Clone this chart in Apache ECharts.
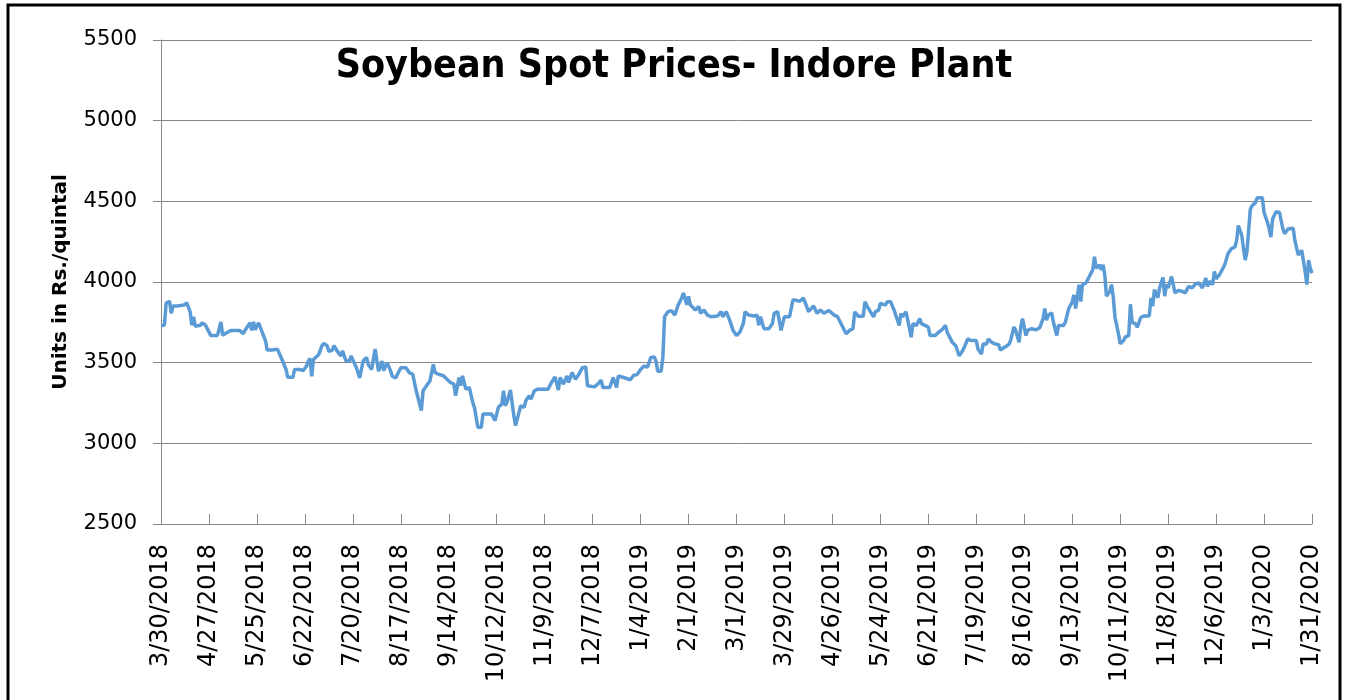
<!DOCTYPE html>
<html>
<head>
<meta charset="utf-8">
<title>Soybean Spot Prices- Indore Plant</title>
<script src="https://cdn.jsdelivr.net/npm/echarts@6/dist/echarts.min.js"></script>
<style>
    html, body { margin: 0; padding: 0; background: #fff; }
    #chart { width: 1348px; height: 700px; }
</style>
</head>
<body>
<div id="chart"></div>
<script>
// days counted from 3/30/2018 (day 0) to 1/31/2020 (day 672)
var dayNum = [
    0, 2, 3, 5, 6, 7, 10, 14, 15, 17, 18, 19, 20, 23, 24, 26, 27, 29, 33, 34, 35, 36, 38, 41, 46, 48, 49,
    52, 53, 54, 55, 57, 59, 61, 62, 65, 68, 69, 71, 73, 74, 77, 78, 81, 83, 85, 86, 87, 88, 89, 92, 94, 95,
    97, 98, 100, 101, 103, 104, 105, 106, 108, 110, 111, 113, 114, 116, 118, 120, 121, 123, 125, 126, 127,
    129, 130, 132, 134, 135, 137,
    138, 140, 143, 145, 147, 149, 150, 152, 153, 155, 157, 159, 160, 162, 165, 167, 169, 171, 172, 174, 175,
    176, 178, 180, 182, 183, 185, 187, 188, 193, 195, 197, 199, 200, 201, 202, 204, 206, 207, 209, 210, 212,
    213, 215, 216, 218, 220, 226, 228, 230, 232, 233, 235, 237, 238, 240, 242, 244, 246, 248, 249, 253, 255,
    257, 258, 262, 264, 266, 267, 270,
    274, 276, 278, 280, 282, 284, 286, 288, 289, 290, 292, 293, 294, 296, 298, 300, 302, 304, 305, 307, 308,
    309, 312, 314, 315, 317, 319, 321, 325, 327, 328, 330, 332, 334, 336, 338, 340, 341, 343, 346, 348, 349,
    350, 352, 355, 357, 358, 360, 362, 364, 367, 369, 371, 373, 375, 377, 378, 381, 383, 385, 387, 390, 393,
    395, 397, 400, 402, 404,
    405, 407, 410, 411, 413, 416, 417, 419, 420, 423, 424, 426, 428, 429, 431, 432, 433, 435, 436, 438, 439,
    441, 443, 444, 446, 448, 449, 452, 454, 456, 458, 459, 462, 464, 466, 468, 469, 471, 473, 476, 477, 479,
    480, 482, 483, 485, 487, 489, 490, 493, 495, 496, 498, 499, 501, 502, 503, 505, 506, 508, 511, 513, 515,
    516, 517, 518, 520, 521, 523, 524, 527, 528, 530, 532, 533,
    534, 536, 537, 538, 540, 542, 544, 545, 546, 548, 549, 550, 551, 552, 554, 555, 556, 557, 559, 560, 562,
    563, 565, 566, 567, 569, 570, 572, 574, 577, 578, 579, 580, 582, 583, 585, 586, 587, 588, 590, 592, 594,
    596, 598, 600, 602, 604, 606, 608, 610, 611, 612, 614, 615, 616, 618, 620, 621, 623, 625, 627, 628, 629,
    631, 632, 633, 634, 636, 637, 639, 640, 643, 644, 646, 647, 648, 649, 651, 653, 655, 656, 658, 659, 661,
    662, 664, 666, 667, 668, 669, 670, 671, 672
];

// Rs./quintal
var price = [
    3730, 3732, 3869, 3880, 3806, 3852, 3852, 3859, 3873, 3816, 3732, 3785, 3726, 3732, 3747, 3732, 3726,
    3669, 3669, 3679, 3753, 3669, 3684, 3700, 3700, 3679, 3700,
    3747, 3700, 3753, 3705, 3747, 3690, 3637, 3578, 3578, 3584, 3574, 3510, 3458, 3409, 3409, 3458, 3458,
    3451, 3479, 3510, 3527, 3415, 3520, 3549, 3605, 3620,
    3605, 3570, 3578, 3605, 3570, 3578, 3542, 3574, 3510, 3510, 3542, 3494, 3472, 3405, 3510, 3532, 3489,
    3458, 3584, 3584, 3447,
    3510, 3451, 3500, 3451, 3416, 3405,
    3408, 3469, 3469, 3438, 3428, 3326, 3326, 3203, 3326, 3357, 3387, 3490, 3438, 3428, 3418, 3397, 3377,
    3367, 3295, 3408, 3357,
    3418, 3336, 3346, 3254, 3223, 3100, 3100, 3182, 3182, 3141, 3223, 3244, 3326, 3233, 3254, 3330, 3172,
    3110, 3192, 3233, 3223,
    3264, 3295, 3274, 3326, 3336, 3336, 3377, 3412, 3330, 3408, 3367, 3418, 3377, 3438, 3397, 3428, 3469,
    3473, 3357, 3350, 3367,
    3391, 3346, 3346, 3408, 3346, 3418, 3408,
    3394, 3422, 3426, 3458, 3479, 3472, 3532, 3536, 3510, 3447, 3447, 3532, 3785, 3816, 3823, 3795, 3859,
    3901, 3932, 3859, 3911,
    3859, 3827, 3848, 3806, 3827, 3795, 3785, 3789, 3816, 3785, 3816, 3764, 3700, 3669, 3690, 3743, 3816,
    3795, 3789, 3795, 3732,
    3785, 3711, 3711, 3743, 3806, 3816, 3700, 3785, 3785, 3890, 3886, 3880, 3901, 3848, 3816, 3852, 3806,
    3827, 3806, 3823, 3795,
    3785, 3743, 3679, 3700, 3711,
    3815, 3788, 3788, 3878, 3836, 3784, 3815, 3826, 3868, 3857, 3878, 3878, 3826, 3794, 3731, 3805, 3784,
    3815, 3763, 3658, 3742,
    3731, 3773, 3742, 3731, 3721, 3668, 3668, 3689, 3704, 3731, 3689, 3626, 3605, 3542, 3574, 3595, 3647,
    3637, 3637, 3584, 3553,
    3616, 3616, 3647, 3626, 3616, 3612, 3578, 3599, 3612, 3637, 3721, 3700, 3626, 3725, 3773, 3668, 3700,
    3710, 3704, 3716, 3773,
    3836, 3763, 3794, 3809, 3752, 3668, 3731, 3731, 3752, 3836, 3878, 3920,
    3836, 3983, 3878, 3984, 3994, 4034, 4075, 4156, 4085, 4106, 4075, 4106, 4045, 3912, 3943, 3984, 3902,
    3780, 3679, 3618, 3638,
    3658, 3669, 3862, 3750, 3740, 3719, 3780, 3790, 3790, 3902, 3851, 3953, 3902, 3963, 4028, 3912, 3984,
    3963, 4034, 3933, 3947,
    3943, 3933, 3973, 3963, 3988, 3994, 3963, 4024, 3973, 4004, 3984, 4065, 4020, 4045, 4085, 4106, 4177,
    4207, 4217, 4258, 4350,
    4289, 4207, 4136, 4187, 4451, 4472, 4492, 4522, 4522, 4431, 4370, 4329, 4278, 4390, 4435, 4431, 4329,
    4299, 4329, 4333, 4333,
    4258, 4167, 4197, 4187, 4065, 3984, 4136, 4085, 4055
];

// one label every 28 days
var tickLabels = [
    '3/30/2018', '4/27/2018', '5/25/2018', '6/22/2018', '7/20/2018', '8/17/2018', '9/14/2018',
    '10/12/2018', '11/9/2018', '12/7/2018', '1/4/2019', '2/1/2019', '3/1/2019', '3/29/2019',
    '4/26/2019', '5/24/2019', '6/21/2019', '7/19/2019', '8/16/2019', '9/13/2019', '10/11/2019',
    '11/8/2019', '12/6/2019', '1/3/2020', '1/31/2020'
];

var chartTitle = 'Soybean Spot Prices- Indore Plant';
var yName = 'Units in Rs./quintal';

var gridColor = '#878787';

function buildSeriesData() {
    var out = [];
    for (var i = 0; i < dayNum.length; i++) {
        out.push([dayNum[i], price[i]]);
    }
    return out;
}

var chart = echarts.init(document.getElementById('chart'), null, { renderer: 'canvas' });

var option = {
    backgroundColor: '#fff',
    animation: false,
    title: {
        text: chartTitle,
        left: 'center',
        top: 42,
        textStyle: {
            fontFamily: "'DejaVu Sans Condensed', sans-serif",
            fontWeight: 'bold',
            fontSize: 39,
            color: '#000'
        }
    },
    graphic: [{
        // frame round the whole chart
        type: 'rect',
        shape: { x: 8, y: 5, width: 1332, height: 730 },
        style: { fill: 'none', stroke: '#000', lineWidth: 3 },
        silent: true
    }],
    grid: {
        left: 161,
        top: 40,
        width: 1151,
        height: 484
    },
    xAxis: {
        type: 'value',
        min: 0,
        max: 672,
        interval: 28,
        axisLine: { show: true, lineStyle: { color: gridColor, width: 1 } },
        axisTick: { show: true, inside: true, length: 10, lineStyle: { color: gridColor } },
        splitLine: { show: false },
        axisLabel: {
            rotate: 90,
            margin: 20,
            color: '#000',
            fontFamily: 'DejaVu Sans',
            fontSize: 24,
            showMinLabel: true,
            showMaxLabel: true,
            formatter: function (v) {
                return tickLabels[Math.round(v / 28)] || '';
            }
        }
    },
    yAxis: {
        type: 'value',
        min: 2500,
        max: 5500,
        interval: 500,
        name: yName,
        nameLocation: 'middle',
        nameRotate: 90,
        nameGap: 90,
        nameTextStyle: {
            fontFamily: 'DejaVu Sans',
            fontWeight: 'bold',
            fontSize: 20,
            color: '#000'
        },
        axisLine: { show: true, lineStyle: { color: gridColor, width: 1 } },
        axisTick: { show: true, length: 8, lineStyle: { color: gridColor } },
        splitLine: { show: true, lineStyle: { color: gridColor, width: 1 } },
        axisLabel: {
            margin: 24,
            color: '#000',
            fontFamily: 'DejaVu Sans',
            fontSize: 21,
            formatter: function (v) {
                return String(v);
            }
        }
    },
    series: [{
        type: 'line',
        data: buildSeriesData(),
        showSymbol: false,
        lineStyle: { color: '#5B9BD5', width: 3.5 },
        itemStyle: { color: '#5B9BD5' }
    }]
};

chart.setOption(option);
</script>
</body>
</html>
